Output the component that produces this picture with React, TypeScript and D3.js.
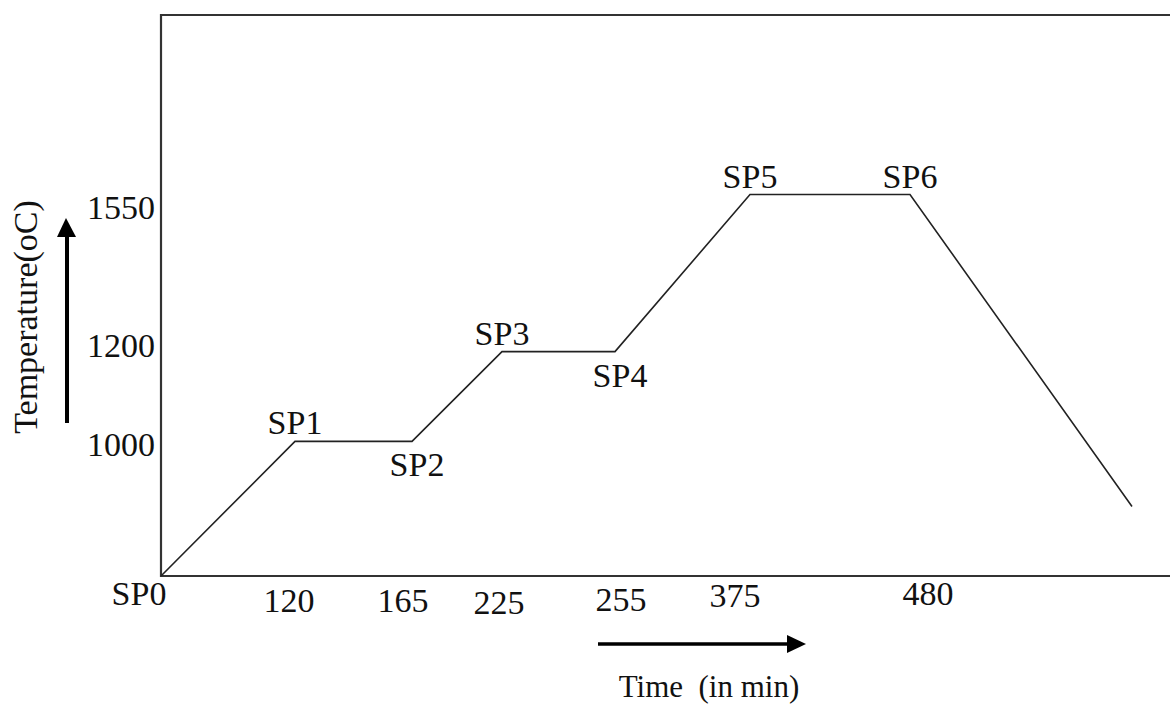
import React from "react";
import * as d3 from "d3";

// ---- data ----
const stageNames = ["SP0", "SP1", "SP2", "SP3", "SP4", "SP5", "SP6", ""];
const stageTimes = [0, 120, 165, 225, 255, 375, 480, 600];
const stageTemps = [700, 1000, 1000, 1200, 1200, 1550, 1550, 855];
const stageLabelSide = ["corner", "above", "below", "above", "below", "above", "above", "none"];
const timeTickLabels = [120, 165, 225, 255, 375, 480];
const tempTickLabels = [1550, 1200, 1000];

// ---- layout (schematic, non-uniform time axis) ----
const W = 1170;
const H = 705;
const plotLeft = 161;
const plotTop = 15;
const plotBottom = 576;
const timeAxisStops = [161, 295, 412, 502, 615, 750, 910, 1132];
// hand-placed label nudges of the original drawing (pixels)
const timeTickNudgeX = [-6, -9, -3, 6, -15, 18];
const timeTickNudgeY = [36, 36, 38, 35, 31, 29];
const tempTickNudgeY = [24, 5, 15];

const FONT = "'Liberation Serif', 'Times New Roman', serif";

export default function App() {
  const x = d3.scaleLinear().domain(stageTimes).range(timeAxisStops);
  const y = d3.scaleLinear().domain([700, 1950]).range([plotBottom, plotTop]);

  const pts = stageTimes.map((t, i) => ({ t, v: stageTemps[i], name: stageNames[i], side: stageLabelSide[i] }));
  const line = d3
    .line<{ t: number; v: number }>()
    .x((d) => x(d.t))
    .y((d) => y(d.v));

  return (
    <svg
      width={W}
      height={H}
      style={{ position: "absolute", left: 0, top: 0, background: "#fff" }}
      fontFamily={FONT}
    >
      <rect x={0} y={0} width={W} height={H} fill="#fff" />
      {/* frame */}
      <path
        d={`M${W + 5},${plotTop} H${plotLeft} V${plotBottom} H${W + 5}`}
        fill="none"
        stroke="#333"
        strokeWidth={2.2}
      />
      {/* profile */}
      <path d={line(pts) || ""} fill="none" stroke="#222" strokeWidth={1.6} />

      {/* stage labels */}
      {pts.map((p, i) => {
        if (p.side === "none") return null;
        const px = x(p.t);
        const py = y(p.v);
        let lx = px;
        let ly = py;
        if (p.side === "above") ly = py - 7;
        else if (p.side === "below") {
          lx = px + 5;
          ly = py + 35;
        } else if (p.side === "corner") {
          lx = px - 22;
          ly = py + 29;
        }
        return (
          <text key={i} x={lx} y={ly} fontSize={34} textAnchor="middle" fill="#111">
            {p.name}
          </text>
        );
      })}

      {/* time tick labels */}
      {timeTickLabels.map((t, i) => (
        <text
          key={t}
          x={x(t) + timeTickNudgeX[i]}
          y={plotBottom + timeTickNudgeY[i]}
          fontSize={34}
          textAnchor="middle"
          fill="#111"
        >
          {t}
        </text>
      ))}

      {/* temperature tick labels */}
      {tempTickLabels.map((v, i) => (
        <text key={v} x={155} y={y(v) + tempTickNudgeY[i]} fontSize={34} textAnchor="end" fill="#111">
          {v}
        </text>
      ))}

      {/* y axis title + arrow */}
      <text
        transform="translate(37,317) rotate(-90)"
        fontSize={34}
        textAnchor="middle"
        fill="#111"
      >
        Temperature(oC)
      </text>
      <line x1={67} y1={423} x2={67} y2={232} stroke="#000" strokeWidth={4} />
      <path d="M66,218 L57,237 L76,237 Z" fill="#000" />

      {/* x axis title + arrow */}
      <line x1={598} y1={644} x2={790} y2={644} stroke="#000" strokeWidth={3.5} />
      <path d="M806,644 L787,635 L787,653 Z" fill="#000" />
      <text x={709} y={697} fontSize={31} textAnchor="middle" fill="#111" style={{ whiteSpace: "pre" }}>
        {"Time  (in min)"}
      </text>
    </svg>
  );
}
